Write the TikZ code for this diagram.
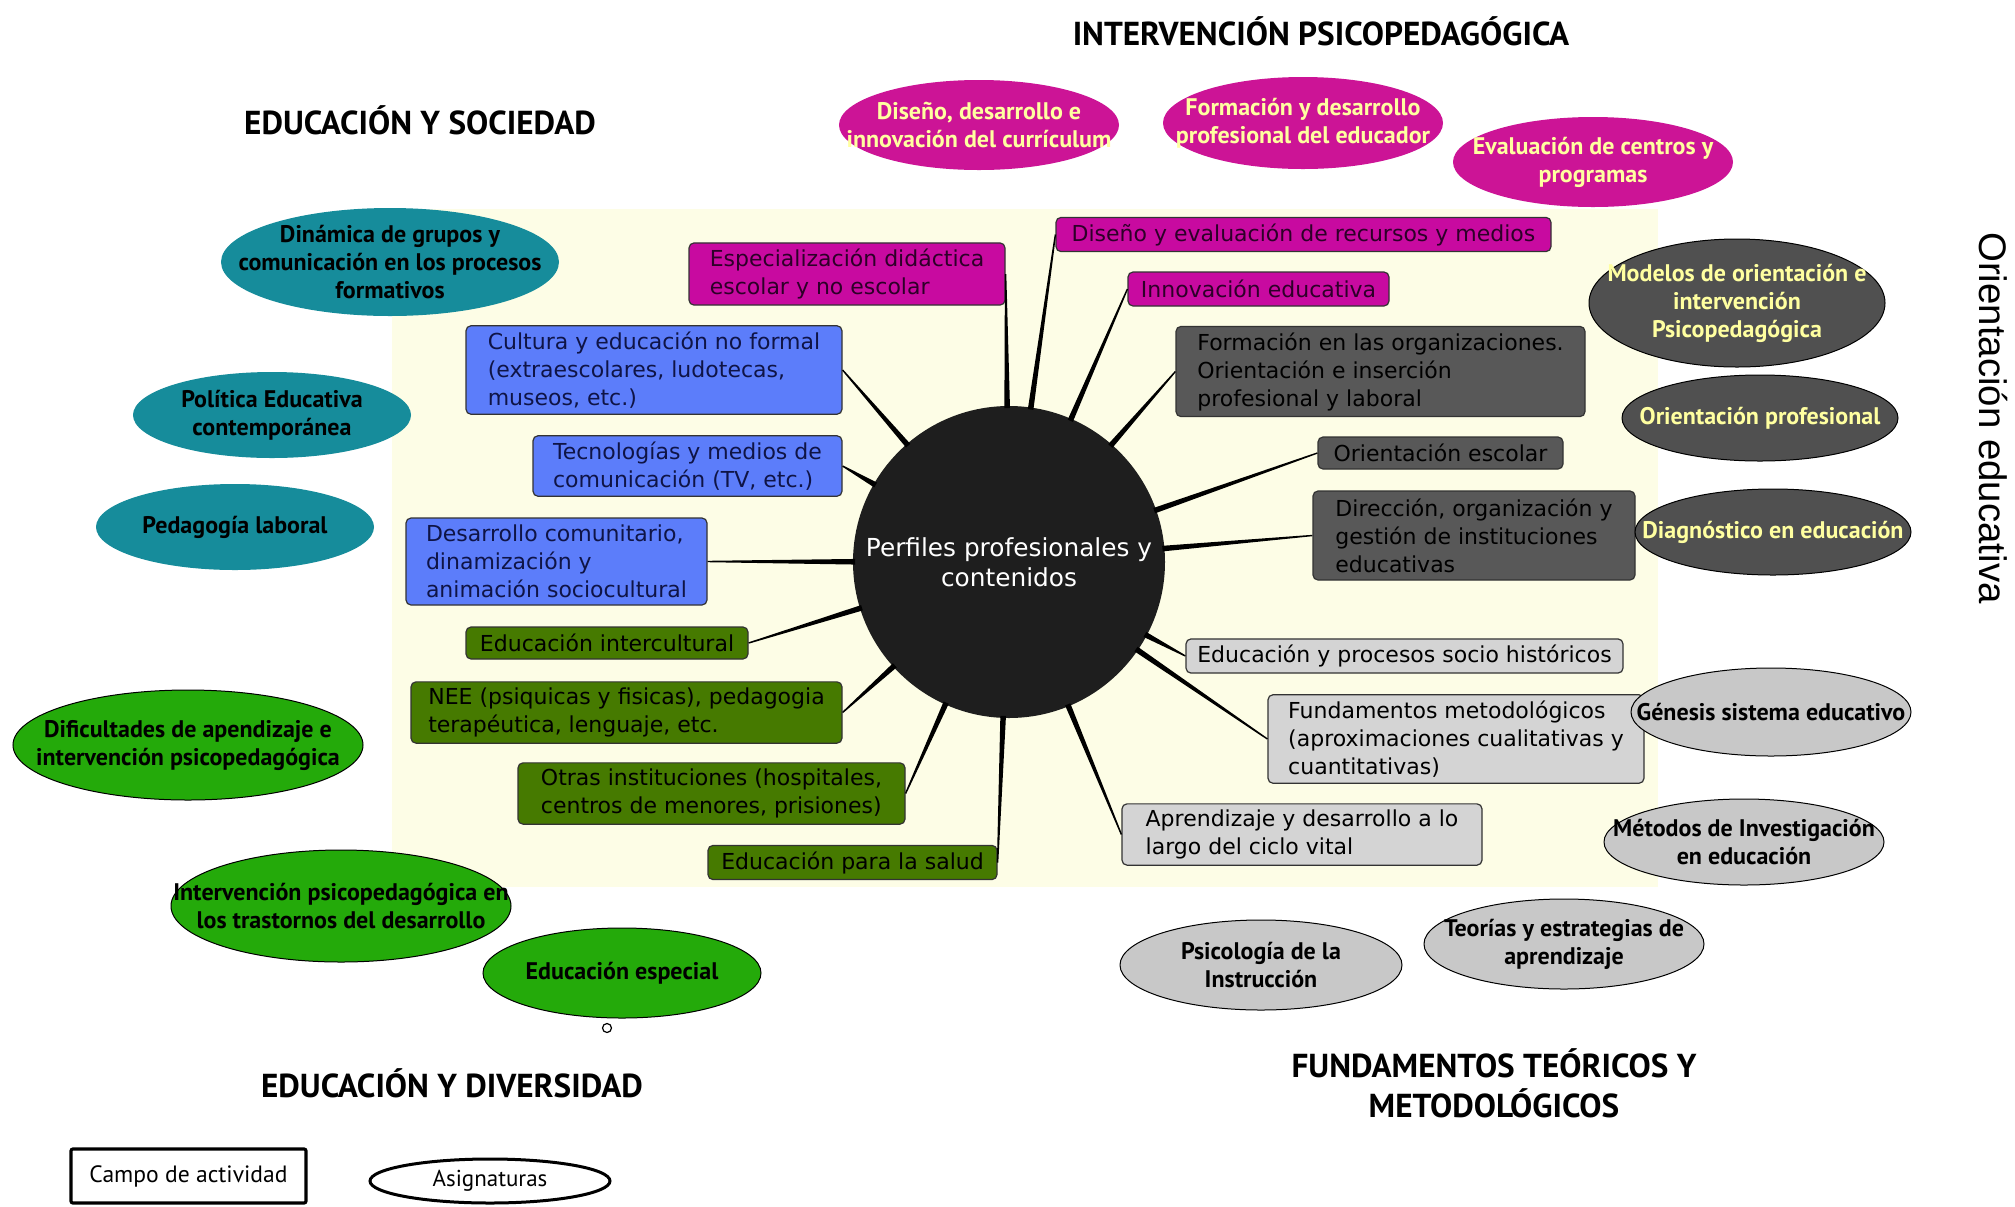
\documentclass[tikz,border=0pt]{standalone}
\usepackage{fontspec}
\setmainfont{PT Sans}
\newfontfamily\orfont{Liberation Sans}
\newfontfamily\boxfont{DejaVu Sans}
\usetikzlibrary{shapes.geometric,calc}
\definecolor{bgY}{RGB}{253,253,230}
\definecolor{magB}{RGB}{200,10,160}
\definecolor{magE}{RGB}{204,20,150}
\definecolor{magT}{RGB}{45,0,40}
\definecolor{bluB}{RGB}{92,125,250}
\definecolor{bluT}{RGB}{15,20,70}
\definecolor{grnB}{RGB}{70,122,0}
\definecolor{dgrB}{RGB}{88,88,88}
\definecolor{lgrB}{RGB}{212,212,212}
\definecolor{tealE}{RGB}{22,140,155}
\definecolor{grnE}{RGB}{36,170,10}
\definecolor{dgrE}{RGB}{80,80,80}
\definecolor{lgrE}{RGB}{200,200,200}
\definecolor{yelT}{RGB}{255,255,160}
\definecolor{hubC}{RGB}{30,30,30}
\newcommand\spoke[1]{%
  \path ($(C.center)!77pt!(#1)$) coordinate (sp);
  \fill[black] ($(sp)!1.4pt!90:(#1)$) -- ($(sp)!1.4pt!-90:(#1)$)
     -- ($(#1)!0.35pt!90:(sp)$) -- ($(#1)!0.35pt!-90:(sp)$) -- cycle;
}
\begin{document}
\begin{tikzpicture}[x=0.5pt,y=-0.5pt,
  bx/.style={rectangle, rounded corners=2.5pt, draw=black!80, line width=0.6pt,
     inner sep=3pt, align=left, font=\boxfont\fontsize{11}{14}\selectfont},
  bmag/.style={bx, fill=magB, text=magT},
  bblu/.style={bx, fill=bluB, text=bluT},
  bgrn/.style={bx, fill=grnB, text=black},
  bdgr/.style={bx, fill=dgrB, text=black},
  blgr/.style={bx, fill=lgrB, text=black},
  ell/.style={ellipse, inner sep=0pt},
  et/.style={align=center, font=\fontsize{12}{14}\selectfont\bfseries, inner sep=0pt},
  emag/.style={ell, fill=magE},
  etea/.style={ell, fill=tealE},
  egrn/.style={ell, fill=grnE, draw=black, line width=0.5pt},
  edgr/.style={ell, fill=dgrE, draw=black, line width=0.5pt},
  elgr/.style={ell, fill=lgrE, draw=black, line width=0.5pt},
  head/.style={align=center, font=\fontsize{16.6}{20}\selectfont\bfseries},
]
\useasboundingbox (0,0) rectangle (2015,1206);
\fill[white] (0,0) rectangle (2015,1206);
\fill[bgY] (392,209) rectangle (1658,887);

% headings
\node[head] (h1) at (1321,31) {INTERVENCIÓN PSICOPEDAGÓGICA};
\node[head] (h2) at (420,120) {EDUCACIÓN Y SOCIEDAD};
\node[head] (h3) at (452,1083) {EDUCACIÓN Y DIVERSIDAD};
\node[head] (h4) at (1494,1083) {FUNDAMENTOS TEÓRICOS Y\\METODOLÓGICOS};
\node[rotate=-90, font=\orfont\fontsize{19.2}{22}\selectfont] (h5) at (1993,418) {Orientación educativa};

% central hub
\node[circle, fill=hubC, minimum size=156pt, inner sep=0pt, text=white, align=center,
      font=\boxfont\fontsize{12.4}{15}\selectfont] (C) at (1009,562) {Perfiles profesionales y\\contenidos};

% boxes
\node[bmag, minimum width=158pt, minimum height=31pt] (b1) at (847,274) {Especialización didáctica\\escolar y no escolar};
\node[bmag, minimum width=247.5pt, minimum height=16.5pt] (b2) at (1303.5,234.5) {Diseño y evaluación de recursos y medios};
\node[bmag, minimum width=130.5pt, minimum height=17pt] (b3) at (1258.5,289) {Innovación educativa};
\node[bblu, minimum width=188pt, minimum height=44pt] (b4) at (654,370) {Cultura y educación no formal\\(extraescolares, ludotecas,\\museos, etc.)};
\node[bblu, minimum width=154.5pt, minimum height=29pt] (b5) at (687.5,466) {Tecnologías y medios de\\comunicación (TV, etc.)};
\node[bblu, minimum width=150.5pt, minimum height=43.5pt] (b6) at (556.5,561.5) {Desarrollo comunitario,\\dinamización y\\animación sociocultural};
\node[bgrn, minimum width=141pt, minimum height=16pt] (b7) at (607,643) {Educación intercultural};
\node[bgrn, minimum width=215.5pt, minimum height=30.5pt] (b8) at (626.5,712.5) {NEE (psiquicas y fisicas), pedagogia\\terapéutica, lenguaje, etc.};
\node[bgrn, minimum width=193.5pt, minimum height=30.5pt] (b9) at (711.5,793.5) {Otras instituciones (hospitales,\\centros de menores, prisiones)};
\node[bgrn, minimum width=144.5pt, minimum height=16.5pt] (b10) at (852.5,862.5) {Educación para la salud};
\node[bdgr, minimum width=204.5pt, minimum height=43.5pt] (b11) at (1380.5,371.5) {Formación en las organizaciones.\\Orientación e inserción\\profesional y laboral};
\node[bdgr, minimum width=122.5pt, minimum height=16pt] (b12) at (1440.5,453) {Orientación escolar};
\node[bdgr, minimum width=161pt, minimum height=44.5pt] (b13) at (1474,535.5) {Dirección, organización y\\gestión de instituciones\\educativas};
\node[blgr, minimum width=218.5pt, minimum height=16pt] (b14) at (1404.5,656) {Educación y procesos socio históricos};
\node[blgr, minimum width=188pt, minimum height=44pt] (b15) at (1456,739) {Fundamentos metodológicos\\(aproximaciones cualitativas y\\cuantitativas)};
\node[blgr, minimum width=180pt, minimum height=30.5pt] (b16) at (1302,834.5) {Aprendizaje y desarrollo a lo\\largo del ciclo vital};

% spokes
\spoke{b1.east}
\spoke{b2.west}
\spoke{b3.west}
\spoke{b11.west}
\spoke{b12.west}
\spoke{b13.west}
\spoke{b14.west}
\spoke{b15.west}
\spoke{b16.west}
\spoke{b10.east}
\spoke{b9.east}
\spoke{b8.east}
\spoke{b7.east}
\spoke{b6.east}
\spoke{b5.east}
\spoke{b4.east}

% subject ellipses
\node[emag, minimum width=140pt, minimum height=45pt, label={[et,text=yelT]center:{Diseño, desarrollo e\\innovación del currículum}}] (e1) at (979,125) {};
\node[emag, minimum width=140pt, minimum height=46pt, label={[et,text=yelT]center:{Formación y desarrollo\\profesional del educador}}] (e2) at (1303,123) {};
\node[emag, minimum width=140pt, minimum height=45pt, label={[et,text=yelT]center:{Evaluación de centros y\\programas}}] (e3) at (1593,162) {};

\node[etea, minimum width=169pt, minimum height=54pt, label={[et]center:{Dinámica de grupos y\\comunicación en los procesos\\formativos}}] (t1) at (390,262) {};
\node[etea, minimum width=139pt, minimum height=43pt, label={[et]center:{Política Educativa\\contemporánea}}] (t2) at (272,415) {};
\node[etea, minimum width=139pt, minimum height=43pt, label={[et]center:{Pedagogía laboral}}] (t3) at (235,527) {};

\node[egrn, minimum width=175pt, minimum height=55pt, label={[et]center:{Dificultades de apendizaje e\\intervención psicopedagógica}}] (g1) at (188,745) {};
\node[egrn, minimum width=170pt, minimum height=56pt, label={[et]center:{Intervención psicopedagógica en\\los trastornos del desarrollo}}] (g2) at (341,906) {};
\node[egrn, minimum width=139pt, minimum height=45pt, label={[et]center:{Educación especial}}] (g3) at (622,973) {};
\node[circle, draw=black, line width=0.6pt, fill=white, minimum size=4.5pt, inner sep=0pt] (dot) at (607,1028) {};

\node[edgr, minimum width=148pt, minimum height=64pt, label={[et,text=yelT]center:{Modelos de orientación e\\intervención\\Psicopedagógica}}] (d1) at (1737,303) {};
\node[edgr, minimum width=138pt, minimum height=43pt, label={[et,text=yelT]center:{Orientación profesional}}] (d2) at (1760,418) {};
\node[edgr, minimum width=138pt, minimum height=43pt, label={[et,text=yelT]center:{Diagnóstico en educación}}] (d3) at (1773,532) {};

\node[elgr, minimum width=140pt, minimum height=44pt, label={[et]center:{Génesis sistema educativo}}] (l1) at (1771,712) {};
\node[elgr, minimum width=140pt, minimum height=43pt, label={[et]center:{Métodos de Investigación\\en educación}}] (l2) at (1744,842) {};
\node[elgr, minimum width=141pt, minimum height=45pt, label={[et]center:{Psicología de la\\Instrucción}}] (l3) at (1261,965) {};
\node[elgr, minimum width=140pt, minimum height=45pt, label={[et]center:{Teorías y estrategias de\\aprendizaje}}] (l4) at (1564,944) {};

% legend
\node[rectangle, draw=black, line width=1.6pt, rounded corners=1pt, fill=white,
      minimum width=117.5pt, minimum height=27pt, font=\fontsize{11.8}{13}\selectfont] (lg1) at (188.5,1176) {Campo de actividad};
\node[ellipse, draw=black, line width=1.5pt, fill=white, inner sep=0pt,
      minimum width=120pt, minimum height=22pt, font=\fontsize{11.5}{13}\selectfont] (lg2) at (490,1181) {Asignaturas};
\end{tikzpicture}
\end{document}
